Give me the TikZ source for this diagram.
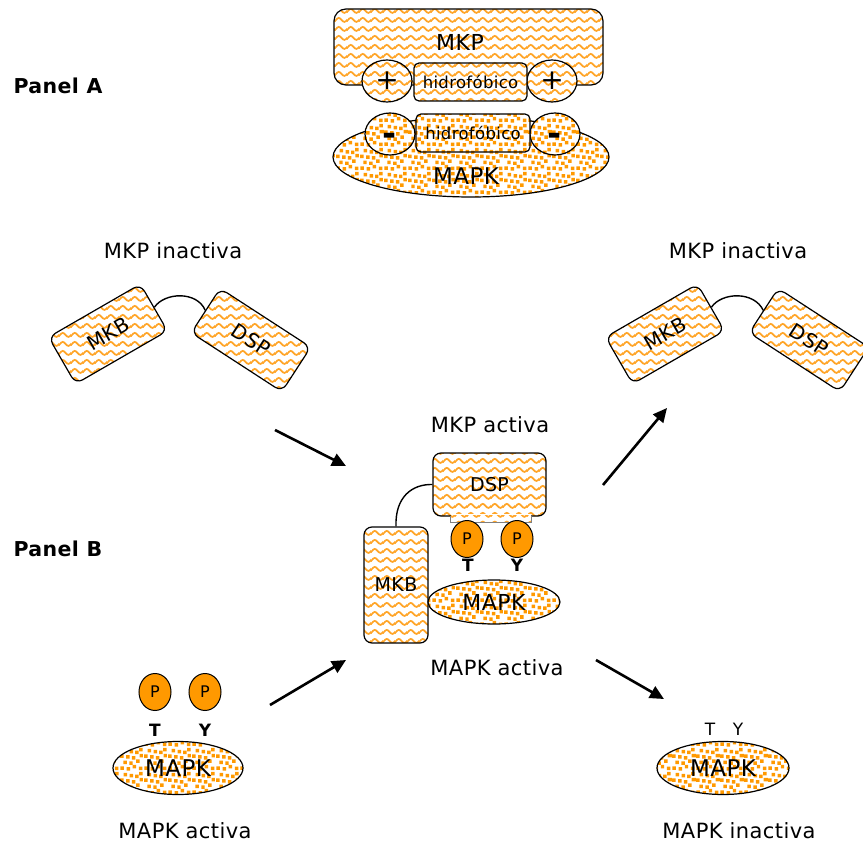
\documentclass[tikz,border=0pt]{standalone}
\usepackage{fontspec}
\setmainfont{DejaVu Sans}[LetterSpace=2]
\usetikzlibrary{patterns.meta,shapes.geometric,arrows.meta}
\definecolor{wavecol}{RGB}{255,165,40}
\definecolor{dotcol}{RGB}{255,153,0}
\definecolor{pcol}{RGB}{255,153,0}
\newcommand\fsz[1]{\fontsize{#1}{#1}\selectfont}
\tikzdeclarepattern{
  name=wavy, type=colored,
  bottom left={(0pt,0pt)}, top right={(12pt,9pt)},
  tile size={(12pt,9pt)},
  code={\draw[wavecol, line width=1.9pt]
    (-3pt,2.3pt) cos (0pt,4.5pt) sin (3pt,6.7pt) cos (6pt,4.5pt)
    sin (9pt,2.3pt) cos (12pt,4.5pt) sin (15pt,6.7pt);}
}
\tikzdeclarepattern{
  name=speckle, type=colored,
  bottom left={(0pt,0pt)}, top right={(24pt,24pt)},
  tile size={(24pt,24pt)},
  code={\fill[dotcol]
    (0.5pt,1.2pt) rectangle +(3.6pt,3.6pt)
    (6.8pt,0.4pt) rectangle +(3.6pt,3.6pt)
    (13.2pt,2.6pt) rectangle +(3.6pt,3.6pt)
    (19.6pt,0.9pt) rectangle +(3.6pt,3.6pt)
    (3.4pt,7.0pt) rectangle +(3.6pt,3.6pt)
    (9.6pt,6.2pt) rectangle +(3.6pt,3.6pt)
    (16.8pt,8.4pt) rectangle +(3.6pt,3.6pt)
    (0.2pt,13.4pt) rectangle +(3.6pt,3.6pt)
    (6.4pt,12.6pt) rectangle +(3.6pt,3.6pt)
    (12.4pt,11.8pt) rectangle +(3.6pt,3.6pt)
    (20.2pt,14.0pt) rectangle +(3.6pt,3.6pt)
    (3.8pt,19.2pt) rectangle +(3.6pt,3.6pt)
    (10.0pt,18.0pt) rectangle +(3.6pt,3.6pt)
    (15.6pt,17.4pt) rectangle +(3.6pt,3.6pt)
    (19.8pt,20.2pt) rectangle +(3.6pt,3.6pt);}
}
\begin{document}
\begin{tikzpicture}[x=1pt,y=-1pt,
  wavebox/.style={draw, line width=1.2pt, rounded corners=8pt, preaction={fill=white}, pattern=wavy, inner sep=0pt},
  dotell/.style={draw, ellipse, line width=1.2pt, preaction={fill=white}, pattern=speckle, inner sep=0pt},
  circ/.style={draw, ellipse, line width=1.2pt, inner sep=0pt, preaction={fill=white}, minimum width=50pt, minimum height=42pt},
  pball/.style={draw, ellipse, fill=pcol, line width=1pt, minimum width=32pt, minimum height=37pt, inner sep=0pt, font=\fsz{16}},
  lbl/.style={font=\fsz{21}},
  ty/.style={font=\fsz{17}\bfseries},
  panel/.style={font=\fsz{20.5}\bfseries, anchor=west},
  arr/.style={-{Triangle[length=14pt,width=13pt]}, line width=2.6pt},
  link/.style={line width=1.4pt}
]
\useasboundingbox (0,0) rectangle (863,843);

% ---------------- Panel A ----------------
\node[panel] (pA) at (10,86) {Panel A};
\node[wavebox, rounded corners=12pt, minimum width=269pt, minimum height=76pt] (mkpA) at (468.5,47) {};
\node[font=\fsz{22}] (mkpAt) at (460,42) {MKP};
\node[circ, pattern=wavy, font=\fsz{28}] (plusL) at (387,81) {+};
\node[circ, pattern=wavy, font=\fsz{28}] (plusR) at (552,81) {+};
\node[wavebox, rounded corners=5pt, minimum width=113pt, minimum height=38pt, font=\fsz{16.5}] (hidA) at (470.5,82) {hidrofóbico};

\node[dotell, minimum width=276pt, minimum height=80pt] (mapkA) at (471,157) {};
\node[font=\fsz{23}] (mapkAt) at (466,176) {MAPK};
\node[circ, pattern=speckle, font=\fsz{34}\bfseries] (minL) at (390,134) {\smash{\raisebox{-12pt}{-}}};
\node[circ, pattern=speckle, font=\fsz{34}\bfseries] (minR) at (555,134) {\smash{\raisebox{-12pt}{-}}};
\node[wavebox, rounded corners=5pt, minimum width=114pt, minimum height=38pt, font=\fsz{16.5}, pattern=speckle] (hidB) at (473,133) {hidrofóbico};

% ---------------- Panel B ----------------
\node[panel] (pB) at (10,549) {Panel B};

% left inactive MKP
\node[lbl] (t1) at (173,251) {MKP inactiva};
\node[wavebox, rotate=30, minimum width=106pt, minimum height=54pt, font=\fsz{20}] (mkb1) at (108,334) {MKB};
\node[wavebox, rotate=-33, minimum width=108pt, minimum height=53pt, font=\fsz{20}] (dsp1) at (251,340) {DSP};
\draw[link] (mkb1.east) .. controls (165,292) and (197,291) .. (dsp1.west);

% right inactive MKP
\node[lbl] (t2) at (738,251) {MKP inactiva};
\node[wavebox, rotate=30, minimum width=106pt, minimum height=54pt, font=\fsz{20}] (mkb2) at (665,334) {MKB};
\node[wavebox, rotate=-33, minimum width=108pt, minimum height=53pt, font=\fsz{20}] (dsp2) at (809,340) {DSP};
\draw[link] (mkb2.east) .. controls (722,292) and (754,291) .. (dsp2.west);

% center active complex
\node[lbl] (t3) at (490,425) {MKP activa};
\node[wavebox, minimum width=113pt, minimum height=63pt, font=\fsz{19}] (dspC) at (489.5,484.5) {DSP};
\fill[white] (451,514.2) rectangle (531,517.8);
\path[pattern=wavy] (451,515) rectangle (531,522);
\draw[gray, line width=1pt] (450.5,516) -- (450.5,522) -- (531.5,522) -- (531.5,516);
\node[wavebox, minimum width=64pt, minimum height=116pt, font=\fsz{19}] (mkbC) at (396,585) {MKB};
\draw[link] (mkbC.north) .. controls (395,497) and (412,484) .. (dspC.west);
\node[pball] (pC1) at (467,539) {P};
\node[pball] (pC2) at (517,539) {P};
\node[ty] (tC) at (468,565) {T};
\node[ty] (yC) at (517,565) {Y};
\node[dotell, minimum width=132pt, minimum height=44pt, font=\fsz{22}] (mapkC) at (494,602) {MAPK};
\node[lbl] (t4) at (497,668) {MAPK activa};

% bottom left active MAPK
\node[pball] (pL1) at (155,692) {P};
\node[pball] (pL2) at (205,692) {P};
\node[ty] (tL) at (155,730) {T};
\node[ty] (yL) at (205,730) {Y};
\node[dotell, minimum width=130pt, minimum height=53pt, font=\fsz{23}] (mapkL) at (178,768) {MAPK};
\node[lbl] (t5) at (185,831) {MAPK activa};

% bottom right inactive MAPK
\node[font=\fsz{17}] (tR) at (710,729) {T};
\node[font=\fsz{17}] (yR) at (738,729) {Y};
\node[dotell, minimum width=132pt, minimum height=53pt, font=\fsz{23}] (mapkR) at (723,768) {MAPK};
\node[lbl] (t6) at (739,831) {MAPK inactiva};

% arrows
\coordinate (a1s) at (275,430); \coordinate (a1e) at (346,466);
\coordinate (a2s) at (603,485); \coordinate (a2e) at (667,408);
\coordinate (a3s) at (270,705); \coordinate (a3e) at (346,660);
\coordinate (a4s) at (596,660); \coordinate (a4e) at (664,699);
\draw[arr] (a1s) -- (a1e);
\draw[arr] (a2s) -- (a2e);
\draw[arr] (a3s) -- (a3e);
\draw[arr] (a4s) -- (a4e);
\end{tikzpicture}
\end{document}
